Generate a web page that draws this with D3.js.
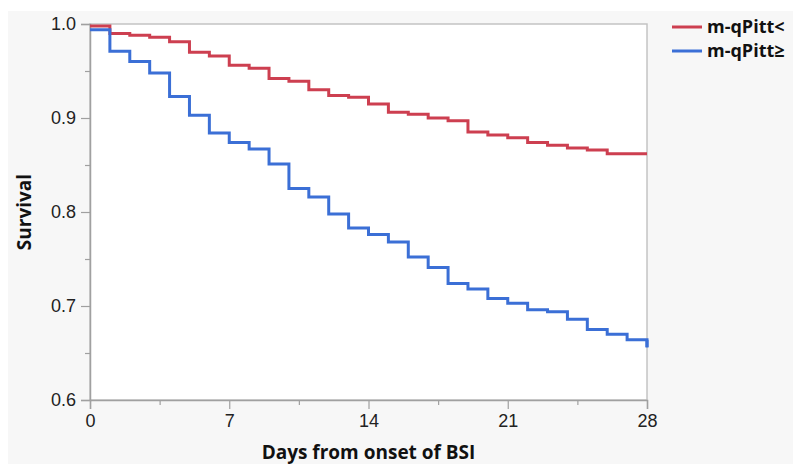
<!DOCTYPE html>
<html>
<head>
<meta charset="utf-8">
<script src="https://cdn.jsdelivr.net/npm/d3@7"></script>
<style>
  html, body { margin: 0; padding: 0; background: #fff; }
  svg { display: block; font-family: "Open Sans", "Noto Sans", sans-serif; }
</style>
</head>
<body>
<div id="chart"></div>
<script>
// Kaplan-Meier steps, value holds from that day until the next one
const days = [0, 1, 2, 3, 4, 5, 6, 7, 8, 9, 10, 11, 12, 13, 14, 15, 16, 17, 18, 19, 20, 21, 22, 23, 24, 25, 26, 27, 28];
const survivalLow = [0.998, 0.990, 0.988, 0.986, 0.981, 0.970, 0.966, 0.956, 0.953, 0.942, 0.939, 0.930, 0.924, 0.922, 0.915,
  0.906, 0.904, 0.900, 0.897, 0.885, 0.882, 0.879, 0.874, 0.871, 0.868, 0.866, 0.862, 0.862, 0.862];
const survivalHigh = [0.994, 0.971, 0.960, 0.948, 0.923, 0.903, 0.884, 0.874, 0.867, 0.851, 0.825, 0.816, 0.798, 0.783, 0.776,
  0.768, 0.752, 0.741, 0.724, 0.718, 0.708, 0.703, 0.696, 0.694, 0.686, 0.675, 0.670, 0.664, 0.656];
const seriesNames = ["m-qPitt<", "m-qPitt≥"];
const seriesColors = ["#cd3f50", "#3b6fd6"];
const xTicks = [0, 7, 14, 21, 28];
const xMinorTicks = [3.5, 10.5, 17.5, 24.5];
const yTicks = [0.6, 0.7, 0.8, 0.9, 1.0];
const yMinorTicks = [0.65, 0.75, 0.85, 0.95];

const width = 793, height = 464;
const margin = { top: 24, right: 146, bottom: 64, left: 90 };

const svg = d3.select("#chart").append("svg")
    .attr("width", width)
    .attr("height", height);

// grey panel behind everything
svg.append("rect")
    .attr("x", 8).attr("y", 11)
    .attr("width", width - 8).attr("height", height - 11)
    .attr("fill", "#f7f7f7");

const x = d3.scaleLinear().domain([0, 28]).range([margin.left, width - margin.right]);
const y = d3.scaleLinear().domain([0.6, 1.0]).range([height - margin.bottom, margin.top]);

// plot frame
svg.append("rect")
    .attr("x", x(0)).attr("y", y(1.0))
    .attr("width", x(28) - x(0)).attr("height", y(0.6) - y(1.0))
    .attr("fill", "#fff")
    .attr("stroke", "#c4c4c4")
    .attr("stroke-width", 1.5);

// axes
svg.append("g")
    .attr("transform", `translate(0,${y(0.6)})`)
    .call(d3.axisBottom(x).tickValues(xTicks).tickFormat(d3.format("d")).tickSizeOuter(0).tickSize(9).tickPadding(5));
svg.append("g")
    .attr("transform", `translate(0,${y(0.6)})`)
    .call(d3.axisBottom(x).tickValues(xMinorTicks).tickFormat("").tickSizeOuter(0).tickSize(5))
    .select(".domain").remove();

svg.append("g")
    .attr("transform", `translate(${x(0)},0)`)
    .call(d3.axisLeft(y).tickValues(yTicks).tickFormat(d3.format(".1f")).tickSizeOuter(0).tickSize(9).tickPadding(5));
svg.append("g")
    .attr("transform", `translate(${x(0)},0)`)
    .call(d3.axisLeft(y).tickValues(yMinorTicks).tickFormat("").tickSizeOuter(0).tickSize(5))
    .select(".domain").remove();

svg.selectAll(".domain").attr("stroke", "#a0a0a0").attr("stroke-width", 1.5);
svg.selectAll(".tick line").attr("stroke", "#a0a0a0").attr("stroke-width", 1.2);
svg.selectAll(".tick text").attr("fill", "#222").style("font-size", "18px");

// survival curves
const line = d3.line()
    .x((d, i) => x(days[i]))
    .y(d => y(d))
    .curve(d3.curveStepAfter);

[survivalLow, survivalHigh].forEach((vals, k) => {
    svg.append("path")
        .datum(vals)
        .attr("fill", "none")
        .attr("stroke", seriesColors[k])
        .attr("stroke-width", 3)
        .attr("d", line);
});

// extra drop on the last day for the high group
svg.append("line")
    .attr("x1", x(28)).attr("x2", x(28))
    .attr("y1", y(survivalHigh[27])).attr("y2", y(survivalHigh[28]))
    .attr("stroke", seriesColors[1]).attr("stroke-width", 3);

// axis titles
svg.append("text")
    .attr("x", (x(0) + x(28)) / 2)
    .attr("y", 459)
    .attr("text-anchor", "middle")
    .attr("font-weight", "bold")
    .attr("font-size", 19)
    .attr("fill", "#111")
    .text("Days from onset of BSI");

svg.append("text")
    .attr("transform", `translate(31,${(y(0.6) + y(1.0)) / 2}) rotate(-90)`)
    .attr("text-anchor", "middle")
    .attr("font-weight", "bold")
    .attr("font-size", 19)
    .attr("fill", "#111")
    .text("Survival");

// legend
const legend = svg.append("g").attr("transform", "translate(672,27)");
seriesNames.forEach((name, i) => {
    const row = legend.append("g").attr("transform", `translate(0,${i * 24})`);
    row.append("line")
        .attr("x1", 0).attr("x2", 30)
        .attr("stroke", seriesColors[i])
        .attr("stroke-width", 3);
    row.append("text")
        .attr("x", 35)
        .attr("dy", "0.35em")
        .attr("font-weight", "bold")
        .attr("font-size", 18)
        .attr("fill", "#111")
        .text(name);
});
</script>
</body>
</html>
